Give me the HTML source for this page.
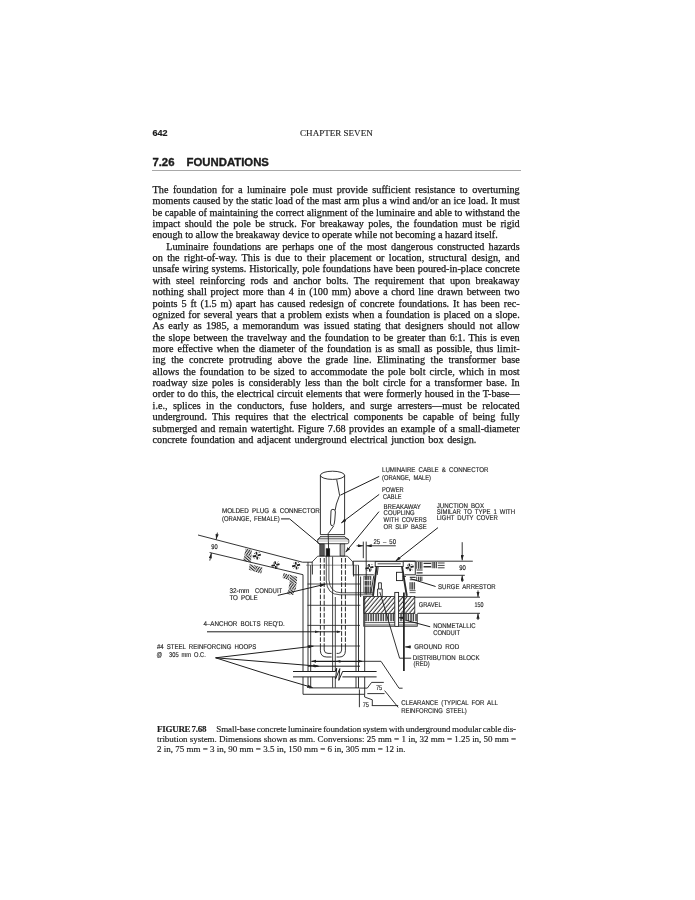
<!DOCTYPE html>
<html><head><meta charset="utf-8"><title>642 Chapter Seven</title>
<style>
html,body{margin:0;padding:0;background:#fff;}
body{width:695px;height:900px;position:relative;overflow:hidden;font-family:"Liberation Serif",serif;color:#1c1c1c;}
.l{position:absolute;left:152.6px;width:367.1px;height:16px;line-height:16px;font-size:10.2px;white-space:nowrap;-webkit-text-stroke:0.25px #171717;color:#171717;}
.l.j{text-align:justify;text-align-last:justify;}
.l.ind{left:166.2px;width:353.5px;}
.pn{position:absolute;left:152.4px;top:126.98px;font:bold 9px/12px "Liberation Sans",sans-serif;-webkit-text-stroke:0.2px #1a1a1a;}
.ch{position:absolute;left:236.4px;width:200px;text-align:center;top:126.75px;font-size:9.05px;line-height:12px;-webkit-text-stroke:0.12px #1c1c1c;}
.h{position:absolute;top:155.07px;font:bold 11.35px/14px "Liberation Sans",sans-serif;white-space:pre;-webkit-text-stroke:0.35px #1a1a1a;}
.rule{position:absolute;left:152px;width:368.5px;top:169.9px;height:1px;background:#a8a8a8;}
.cap{position:absolute;left:157px;width:359px;height:12px;font-size:9.0px;line-height:12px;white-space:nowrap;-webkit-text-stroke:0.15px #1c1c1c;}
.cap.j{text-align:justify;text-align-last:justify;}
.cap b{display:inline-block;width:59.3px;letter-spacing:-0.28px;text-align:left;text-align-last:left;}
svg{position:absolute;left:0;top:0;opacity:0.999;}
.wrap{position:absolute;left:0;top:0;width:695px;height:900px;will-change:transform;opacity:0.999;}
</style></head><body><div class="wrap">
<div class="pn">642</div>
<div class="ch">CHAPTER SEVEN</div>
<div class="h" style="left:152.4px">7.26</div><div class="h" style="left:186.6px">FOUNDATIONS</div>
<div class="rule"></div>
<div class="l j" style="top:181.96px">The foundation for a luminaire pole must provide sufficient resistance to overturning</div>
<div class="l j" style="top:193.32px">moments caused by the static load of the mast arm plus a wind and/or an ice load. It must</div>
<div class="l j" style="top:204.68px">be capable of maintaining the correct alignment of the luminaire and able to withstand the</div>
<div class="l j" style="top:216.04px">impact should the pole be struck. For breakaway poles, the foundation must be rigid</div>
<div class="l" style="top:227.40px">enough to allow the breakaway device to operate while not becoming a hazard itself.</div>
<div class="l j ind" style="top:238.76px">Luminaire foundations are perhaps one of the most dangerous constructed hazards</div>
<div class="l j" style="top:250.12px">on the right-of-way. This is due to their placement or location, structural design, and</div>
<div class="l j" style="top:261.48px">unsafe wiring systems. Historically, pole foundations have been poured-in-place concrete</div>
<div class="l j" style="top:272.84px">with steel reinforcing rods and anchor bolts. The requirement that upon breakaway</div>
<div class="l j" style="top:284.20px">nothing shall project more than 4 in (100 mm) above a chord line drawn between two</div>
<div class="l j" style="top:295.56px">points 5 ft (1.5 m) apart has caused redesign of concrete foundations. It has been rec-</div>
<div class="l j" style="top:306.92px">ognized for several years that a problem exists when a foundation is placed on a slope.</div>
<div class="l j" style="top:318.28px">As early as 1985, a memorandum was issued stating that designers should not allow</div>
<div class="l j" style="top:329.64px">the slope between the travelway and the foundation to be greater than 6:1. This is even</div>
<div class="l j" style="top:341.00px">more effective when the diameter of the foundation is as small as possible, thus limit-</div>
<div class="l j" style="top:352.36px">ing the concrete protruding above the grade line. Eliminating the transformer base</div>
<div class="l j" style="top:363.72px">allows the foundation to be sized to accommodate the pole bolt circle, which in most</div>
<div class="l j" style="top:375.08px">roadway size poles is considerably less than the bolt circle for a transformer base. In</div>
<div class="l j" style="top:386.44px">order to do this, the electrical circuit elements that were formerly housed in the T-base—</div>
<div class="l j" style="top:397.80px">i.e., splices in the conductors, fuse holders, and surge arresters—must be relocated</div>
<div class="l j" style="top:409.16px">underground. This requires that the electrical components be capable of being fully</div>
<div class="l j" style="top:420.52px">submerged and remain watertight. Figure 7.68 provides an example of a small-diameter</div>
<div class="l" style="word-spacing:1.14px;top:431.88px">concrete foundation and adjacent underground electrical junction box design.</div>
<svg width="695" height="900" viewBox="0 0 695 900" font-family="'Liberation Sans',sans-serif" font-size="6.9" fill="#222">
<defs>
<pattern id="hg" width="3.1" height="3.1" patternUnits="userSpaceOnUse" patternTransform="rotate(-50)"><line x1="0" y1="1" x2="3.1" y2="1" stroke="#222" stroke-width="0.95"/></pattern>
<pattern id="hv" width="2.2" height="4" patternUnits="userSpaceOnUse"><line x1="0.7" y1="0" x2="0.7" y2="4" stroke="#2a2a2a" stroke-width="1.25"/></pattern>
<pattern id="hh" width="4" height="2.1" patternUnits="userSpaceOnUse"><line x1="0" y1="0.7" x2="4" y2="0.7" stroke="#444" stroke-width="0.8"/></pattern>
<pattern id="e1" width="2.2" height="2.2" patternUnits="userSpaceOnUse" patternTransform="rotate(-55)"><line x1="0" y1="1" x2="2.2" y2="1" stroke="#2a2a2a" stroke-width="1.15"/></pattern>
<pattern id="e2" width="2.2" height="2.2" patternUnits="userSpaceOnUse" patternTransform="rotate(40)"><line x1="0" y1="1" x2="2.2" y2="1" stroke="#2a2a2a" stroke-width="1.15"/></pattern>
<marker id="ar" viewBox="0 0 10 6" refX="10" refY="3" markerWidth="5.5" markerHeight="3.2" orient="auto-start-reverse" markerUnits="userSpaceOnUse"><path d="M0,0 L10,3 L0,6 Z" fill="#222"/></marker>
<g id="cs" stroke="#1e1e1e" fill="none" stroke-linecap="butt"><path d="M-4,0.9 L-0.5,0.2 M0.8,-0.1 L4,-0.9" stroke-width="1.8"/><path d="M-0.5,-3.7 L-0.1,-0.9 M0.2,1 L0.6,3.9" stroke-width="1.6"/><path d="M-2.5,-2.3 l0.7,0.5 M1.9,2 l0.7,0.5 M2,-2.7 l0.6,-0.6 M-2.4,2.8 l0.6,-0.6" stroke-width="1"/></g>
<pattern id="hs" width="2.5" height="4" patternUnits="userSpaceOnUse"><line x1="1" y1="0" x2="1" y2="4" stroke="#2a2a2a" stroke-width="1.35"/></pattern>
</defs>
<g id="lines" fill="none" stroke="#1e1e1e" stroke-width="0.9" stroke-linecap="butt">
<!-- POLE -->
<ellipse cx="332.5" cy="475.3" rx="12.1" ry="4.1"/>
<path d="M320.4,475.3 V534.6 M344.6,475.3 V534.6 M320.4,534.6 H344.6 M320,536.7 H345"/>
<path d="M336.7,479.6 L339.6,495.3 L336.4,504 L335.2,510"/>
<path d="M331,511 Q331,509.3 333,509.3 Q335.6,509.3 335.4,512 L334.8,520 Q334.6,525.5 332.6,525.8 Q330.4,526 330.5,523 Z"/>
<path d="M333.8,525.8 L328.2,533.6 L328.6,549"/>
<!-- flange -->
<path d="M320.4,536.7 L317.6,540 M344.6,536.7 L348.8,540"/>
<rect x="317.6" y="538.8" width="31.2" height="4.9" rx="1.6" stroke-width="0.8"/>
<path d="M318,541 H348.6" stroke="#777" stroke-width="0.5"/>
<!-- couplings -->
<rect x="319.8" y="544" width="4.4" height="12" fill="#555" stroke-width="0.6"/>
<rect x="340.4" y="544" width="4.4" height="12" fill="#bbb" stroke-width="0.6"/>
<rect x="326.3" y="548.8" width="3.3" height="7.2" fill="#111"/>
<path d="M324.8,544 V556 M339.6,544 V556" stroke="#666" stroke-width="0.5"/>
<!-- FOUNDATION cap -->
<path d="M312.2,565 V561.9 L317.7,556.2 H347.4 L352.9,561.9 V565" stroke-width="0.8"/>
<path d="M306,565.2 H358.6" stroke="#555" stroke-width="0.6"/>
<!-- foundation outer -->
<path d="M303,574.7 V694.3 H364.7 V597"/>
<path d="M308,562.2 V688 M310.7,565.2 V688 M312.4,565 V574.5" />
<path d="M353.6,565 V576.5 M356,565.2 V688 M358.5,565.2 V688 M360.6,576.5 V597" />

<path d="M309,687.9 H359" stroke-width="0.9"/>
<!-- center bar -->
<path d="M332.6,556.5 V687.8 M335.3,597 V687.8" stroke="#333"/>
<!-- anchor bolts dashed -->
<path d="M320.4,558 V647 M324.2,558 V647 M345.4,558 V647 M341.6,558 V647" stroke-dasharray="4.6 1.5" stroke-width="0.95"/>
<path d="M320.4,647 V650.8 Q320.6,657 326.8,657 H331.6 M324.2,647 V650 Q324.4,653.4 328,653.4 H331.6 M345.4,647 V650.8 Q345.2,657 339.4,657 H336.6 M341.6,647 V650 Q341.4,653.4 338.6,653.4 H336.6" stroke-width="0.9"/>
<!-- conduit sweep -->
<path d="M326.3,556 V581 Q327,594.6 340,594.8 H372.6 M328.9,556 V580 Q330,592.6 341,592.8 H372.8" stroke-width="0.75"/>
<!-- hoops -->
<path d="M307.5,584 H360.4 M307.5,605.3 H360.4 M307.5,625.4 H360 M307.5,646 H360" stroke-width="0.8"/>
<path d="M311.4,661.3 H362.6" stroke-width="1.3"/>
<path d="M308,666.2 H360" stroke-width="1"/>
<!-- break lines -->
<rect x="292" y="671.5" width="85" height="5.4" fill="#fff" stroke="none"/><path d="M293,671.5 H335.3 M342.4,671.5 H376.6 M293,676.9 H335.3 M342.4,676.9 H376.6" stroke-width="1"/>
<path d="M335.1,671.5 L336.7,668.2 L335.6,678.8 L339.8,668.6 L338.8,680.4 L342.6,671.5" stroke-width="1" stroke-linejoin="miter"/>
<!-- GROUND left slope -->
<path d="M198,535 L302.5,562.2 H312.4"/>
<path d="M209.6,552.5 L303,574.7"/>

<!-- 90 dim left -->
<path d="M217.4,532.6 L216.2,539.5" marker-end="url(#ar)"/>
<path d="M209.8,560.6 L211.4,553" marker-end="url(#ar)"/>
<!-- ground right -->
<path d="M352.9,561.2 H472.8"/>
<!-- junction box -->
<path d="M353.3,561.2 V574.8 H373.8 M403.2,561.2 H415.3 V574.8 H404.6"/>
<rect x="375.2" y="561.6" width="28" height="4.9" fill="#fff"/>
<path d="M377.6,563.8 H400.8" stroke-width="0.8"/>
<path d="M376.6,566.4 L373,595.8 M402,566.4 L406.8,595.8" stroke-width="1.9" stroke="#2a2a2a"/><path d="M373.8,575.7 L370.9,593.4 M378.2,566.4 L377.2,575"/>
<rect x="396.5" y="572.3" width="6.3" height="8.3" fill="#fff"/>
<path d="M402.8,576.4 H406"/>
<!-- 25-50 -->
<path d="M363.3,541.6 V558.2 M366.2,541.6 V594.5"/>
<path d="M356.6,545.8 H363.2" marker-end="url(#ar)"/>
<path d="M395.8,545.8 H366.4" marker-end="url(#ar)"/>
<!-- stub conduit in box -->
<path d="M377.6,596 V589 H378.6 V582.8 H381.4 V589 H382.2 V596" fill="#fff"/><path d="M378.6,589 H381.4"/>
<!-- gravel -->
<rect x="363.6" y="596.4" width="51.2" height="17" fill="url(#hg)" stroke-width="0.8"/>
<!-- bricks below gravel -->
<rect x="364" y="614" width="53" height="7.2" fill="url(#hs)" stroke="none"/>
<path d="M364,622.6 H417 M364,625 H417" stroke="#444" stroke-width="0.9"/>
<path d="M363.6,613.4 V626.4 H394.6 M398.6,626.4 H417.4 V613.4" stroke="#444"/>
<!-- left bricks in box -->
<rect x="363.8" y="576.2" width="7.2" height="17" fill="url(#hv)" stroke="#444" stroke-width="0.5"/>
<path d="M363.8,580.4 H371 M363.8,586 H371" stroke="#fff" stroke-width="0.8"/>
<!-- right bricks -->
<rect x="416.2" y="562" width="6.4" height="6.8" fill="url(#hv)" stroke="none"/>
<path d="M423.6,563.4 H431.2 M423.6,566.8 H431.2" stroke="#333" stroke-width="1.4"/>
<rect x="431.8" y="562" width="5.2" height="6.2" fill="url(#hv)" stroke="none"/>
<path d="M437.8,563 H444.6 M437.8,565.4 H444.6 M437.8,567.8 H444.6" stroke="#444" stroke-width="1"/>
<path d="M416.6,570 H422.6 M416.6,572.8 H422.6" stroke="#333" stroke-width="1.2"/>
<path d="M409.8,577.4 H415.6 M409.8,579.8 H415.6" stroke="#444" stroke-width="1.1"/>
<rect x="416.2" y="576.6" width="6.4" height="4.4" fill="url(#hv)" stroke="none"/>
<rect x="409.4" y="582.2" width="6.2" height="7.4" fill="url(#hv)" stroke="none"/>
<path d="M409.6,590.6 H415.6 M409.6,592.6 H415.6" stroke="#555" stroke-width="0.9"/>
<!-- nonmetallic conduit & ground rod -->
<rect x="394.8" y="592.4" width="3.8" height="34" fill="#fff"/>
<path d="M403.9,592.4 V671" stroke-width="1.7"/>
<path d="M379.8,592 L399.6,658.2 H411.2"/>
<!-- dims right -->
<path d="M415.8,575.3 H464.8"/>
<path d="M462.2,542.2 V560.4" marker-end="url(#ar)"/>
<path d="M462.2,582 V575.5" marker-end="url(#ar)"/>
<path d="M415,597.2 H480 M417.6,613.3 H480"/>
<path d="M478,590.4 V597" marker-end="url(#ar)"/>
<path d="M478,620 V613.5" marker-end="url(#ar)"/>
<!-- bottom right clearance -->
<path d="M362.6,661.3 H381 L399,688.2 H402.6"/>
<path d="M359,688.1 H367.3 L371.6,682.4 H383.8"/>
<path d="M367.3,693.6 H384.5"/>
<path d="M384.6,690.6 L398.2,707.4 M371.8,705.6 H398.2"/>
<path d="M359.4,689.4 V707.2"/>
<path d="M364.6,694.3 V697 L372.3,699.8 V705.6"/>
<g stroke-width="1">
<path d="M379.2,476.4 L340.3,495.2"/>
<path d="M379.2,494.4 L341.2,523" marker-end="url(#ar)"/>
<path d="M379,511.6 L345.6,552.2" marker-end="url(#ar)"/>
<path d="M438,527.6 L395.6,561" marker-end="url(#ar)"/>
<path d="M281,518.9 H289.6 L320.2,544.4"/>
<path d="M277.8,595.4 L325.4,584.2" marker-end="url(#ar)"/>
<path d="M207,631.8 H339.8"/>
<path d="M215.6,657.8 L313.4,646.2" marker-end="url(#ar)"/>
<path d="M215.6,657.8 L318.6,666.2" marker-end="url(#ar)"/>
<path d="M215.6,657.8 L269.8,675 L312.6,687.6" marker-end="url(#ar)"/>
<path d="M435.6,586.5 L410.5,578.7"/>
<path d="M430.2,626.8 L406.4,620.4"/><path d="M403.2,617.8 H398.8" marker-end="url(#ar)"/>
<path d="M411,646.9 H405.2" marker-end="url(#ar)"/>
</g></g>
<!-- arrows on anchor line & hoops -->
<g fill="#222" stroke="none">
<path d="M319.4,631.8 l-4.4,-1.3 v2.6z M341.2,631.8 l-4.4,-1.3 v2.6z"/>
<path d="M311.4,661.3 l4.6,-1.5 v3z M362.8,661.3 l-4.6,-1.5 v3z M336,661.3 l4.4,-1.4 v2.8z"/>
<path d="M319,666.2 l-4.4,-1.4 v2.8z M313.8,646.1 l-4.4,-0.9 l0.3,2.6z"/>
</g>
<!-- earth patches -->
<g stroke="none">
<path d="M245.6,548.4 L251.8,550 L251.4,556 L244.4,555 Z" fill="url(#e1)"/>
<path d="M244.4,555 L251.4,556 L251,562.8 L243.2,560.8 Z" fill="url(#e2)"/>
<path d="M249.6,564 L256,565.8 L255.2,571.8 L248.8,569.8 Z" fill="url(#e2)"/>
<path d="M256,565.8 L262.6,567.6 L261.4,573.4 L255.2,571.8 Z" fill="url(#e1)"/>
<path d="M283.4,573 L290,574.8 L288.8,580 L282.6,578 Z" fill="url(#e1)"/>
<path d="M290,574.8 L297.2,576.8 L296.6,584 L289.4,582.6 Z" fill="url(#e2)"/>
<path d="M289.4,582.6 L296.6,584 L295.6,590 L288.6,589 Z" fill="url(#e1)"/>
<path d="M288.6,589 L294.6,590 L293.4,595 L286.8,594 Z" fill="url(#e2)"/>
</g>
<use href="#cs" x="256.8" y="555.6"/><use href="#cs" x="275.5" y="565"/><use href="#cs" x="296.1" y="565.5"/>
<use href="#cs" x="369.4" y="567.7"/><use href="#cs" x="409.7" y="567.3"/>
<!-- TEXT -->
<g id="labels" stroke="#2a2a2a" stroke-width="0.15" word-spacing="1.6" style="text-rendering:geometricPrecision">
<text x="382" y="472.2" textLength="106.5" lengthAdjust="spacingAndGlyphs">LUMINAIRE CABLE &amp; CONNECTOR</text>
<text x="382" y="479.9" textLength="49" lengthAdjust="spacingAndGlyphs">(ORANGE, MALE)</text>
<text x="382" y="492" textLength="21.6" lengthAdjust="spacingAndGlyphs">POWER</text>
<text x="383" y="498.6" textLength="18.6" lengthAdjust="spacingAndGlyphs">CABLE</text>
<text x="383.6" y="509" textLength="37.3" lengthAdjust="spacingAndGlyphs">BREAKAWAY</text>
<text x="383.6" y="515.2" textLength="31" lengthAdjust="spacingAndGlyphs">COUPLING</text>
<text x="383.6" y="521.8" textLength="43" lengthAdjust="spacingAndGlyphs">WITH COVERS</text>
<text x="383.6" y="528.8" textLength="43" lengthAdjust="spacingAndGlyphs">OR SLIP BASE</text>
<text x="436.8" y="507.5" textLength="47.2" lengthAdjust="spacingAndGlyphs">JUNCTION BOX</text>
<text x="436.8" y="513.9" textLength="78.3" lengthAdjust="spacingAndGlyphs">SIMILAR TO TYPE 1 WITH</text>
<text x="436.8" y="520.3" textLength="61" lengthAdjust="spacingAndGlyphs">LIGHT DUTY COVER</text>
<text x="222" y="512.6" textLength="97.9" lengthAdjust="spacingAndGlyphs">MOLDED PLUG &amp; CONNECTOR</text>
<text x="222" y="520.6" textLength="57.6" lengthAdjust="spacingAndGlyphs">(ORANGE, FEMALE)</text>
<text x="211.2" y="548.7" textLength="6.4" lengthAdjust="spacingAndGlyphs">90</text>
<text x="373.4" y="544" textLength="22.6" lengthAdjust="spacingAndGlyphs">25 – 50</text>
<text x="459.3" y="569.6" textLength="6.6" lengthAdjust="spacingAndGlyphs">90</text>
<text x="438.1" y="588.7" textLength="57.6" lengthAdjust="spacingAndGlyphs">SURGE ARRESTOR</text>
<text x="418.7" y="606.5" textLength="23" lengthAdjust="spacingAndGlyphs">GRAVEL</text>
<text x="474.5" y="606.5" textLength="9" lengthAdjust="spacingAndGlyphs">150</text>
<text x="229.4" y="592.7" textLength="20" lengthAdjust="spacingAndGlyphs">32-mm</text><text x="255" y="592.7" textLength="27.2" lengthAdjust="spacingAndGlyphs">CONDUIT</text>
<text x="229.4" y="600.3" textLength="28.3" lengthAdjust="spacingAndGlyphs">TO POLE</text>
<text x="203.4" y="625.9" textLength="81.3" lengthAdjust="spacingAndGlyphs">4–ANCHOR BOLTS REQ'D.</text>
<text x="156.9" y="649.1" textLength="99.5" lengthAdjust="spacingAndGlyphs">#4 STEEL REINFORCING HOOPS</text>
<text x="156.6" y="657.4" textLength="5.6" lengthAdjust="spacingAndGlyphs">@</text><text x="169" y="657.4" textLength="36.8" lengthAdjust="spacingAndGlyphs">305 mm O.C.</text>
<text x="433.2" y="627.5" textLength="42.3" lengthAdjust="spacingAndGlyphs">NONMETALLIC</text>
<text x="433.2" y="635" textLength="26.8" lengthAdjust="spacingAndGlyphs">CONDUIT</text>
<text x="414.2" y="648.7" textLength="45" lengthAdjust="spacingAndGlyphs">GROUND ROD</text>
<text x="412.8" y="659.7" textLength="66.7" lengthAdjust="spacingAndGlyphs">DISTRIBUTION BLOCK</text>
<text x="413.6" y="666.2" textLength="16" lengthAdjust="spacingAndGlyphs">(RED)</text>
<text x="375.9" y="690.4" textLength="6.2" lengthAdjust="spacingAndGlyphs">75</text>
<text x="362.7" y="707.3" textLength="6.2" lengthAdjust="spacingAndGlyphs">75</text>
<text x="401.2" y="705.4" textLength="96.7" lengthAdjust="spacingAndGlyphs">CLEARANCE (TYPICAL FOR ALL</text>
<text x="401.2" y="713.1" textLength="65.6" lengthAdjust="spacingAndGlyphs">REINFORCING STEEL)</text>
</g>
</svg>

<div class="cap j" style="letter-spacing:-0.1px;word-spacing:-0.8px;top:723.26px"><b>FIGURE 7.68</b>Small-base concrete luminaire foundation system with underground modular cable dis-</div>
<div class="cap j" style="letter-spacing:-0.05px;top:732.96px">tribution system. Dimensions shown as mm. Conversions: 25 mm = 1 in, 32 mm = 1.25 in, 50 mm =</div>
<div class="cap" style="top:742.66px">2 in, 75 mm = 3 in, 90 mm = 3.5 in, 150 mm = 6 in, 305 mm = 12 in.</div>
</div></body></html>
